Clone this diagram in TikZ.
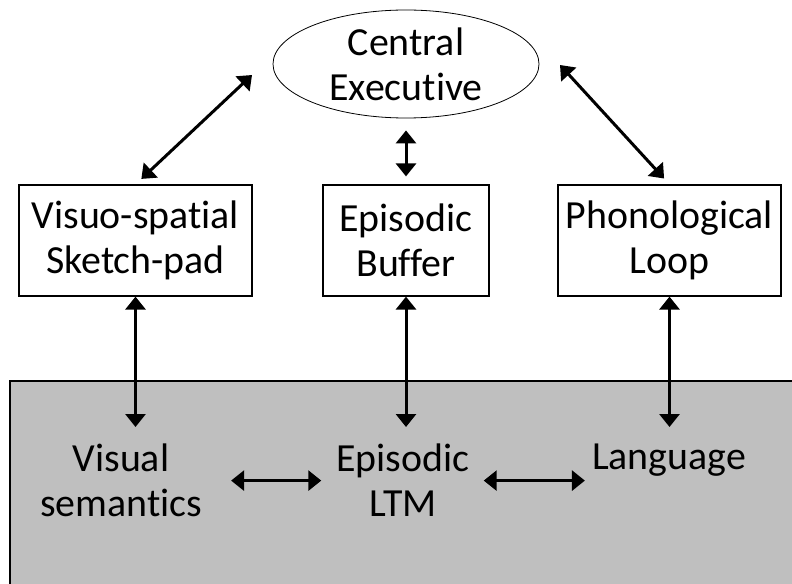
\documentclass[tikz,border=0pt]{standalone}
\usepackage{fontspec}
\setmainfont{Carlito}[RawFeature=-liga]
\usetikzlibrary{arrows.meta, shapes.geometric}

\tikzset{
  box/.style={draw, line width=1.2bp, minimum height=111bp, inner sep=3bp, align=center},
  lbl/.style={inner sep=3bp, align=center, anchor=north},
  twoway/.style={{Triangle[width=20bp,length=13bp]}-{Triangle[width=20bp,length=13bp]}, line width=3bp},
}

\begin{document}
\begin{tikzpicture}[x=1bp, y=-1bp, font=\fontsize{40}{45}\selectfont]
        \useasboundingbox (0,0) rectangle (792,584);

        % long-term memory region
        \fill[black!25] (10,381) rectangle (792,584);
        \draw[line width=1.5bp] (10,584) -- (10,381) -- (792,381);

        \node[draw, ellipse, line width=0.8bp, minimum width=266bp, minimum height=108bp, inner sep=0pt, align=center] (ce) at (406,64) {Central\\Executive};

        \node[box, minimum width=233bp] (vsp) at (135.5,240.5) {Visuo-spatial\\Sketch-pad};
        \node[box, minimum width=166bp] (eb) at (406,240.5) {Episodic\\Buffer};
        \node[box, minimum width=223bp] (pl) at (669.5,240.5) {Phonological\\Loop};

        \node[lbl] (vsem) at (121,441) {Visual\\semantics};
        \node[lbl] (eltm) at (403,441) {Episodic\\LTM};
        \node[lbl] (lang) at (669,441) {Language};

        \coordinate (cel) at (252,75);
        \coordinate (cer) at (560,65);

        \draw[twoway, shorten <=8bp] (vsp.north) -- (cel);
        \draw[twoway, shorten <=12bp, shorten >=8bp] (ce.south) -- (eb.north);
        \draw[twoway, shorten >=8bp] (cer) -- (pl.north);

        \draw[twoway, shorten >=14bp] (vsp.south) -- (vsp.south |- vsem.north);
        \draw[twoway, shorten >=14bp] (eb.south) -- (eb.south |- eltm.north);
        \draw[twoway, shorten >=14bp] (pl.south) -- (pl.south |- lang.north);

        \draw[twoway, shorten <=26bp, shorten >=12bp] (vsem.east) -- (eltm.west |- vsem.east);
        \draw[twoway, shorten <=11bp, shorten >=4bp] (eltm.east |- vsem.east) -- (lang.west |- vsem.east);
\end{tikzpicture}
\end{document}
